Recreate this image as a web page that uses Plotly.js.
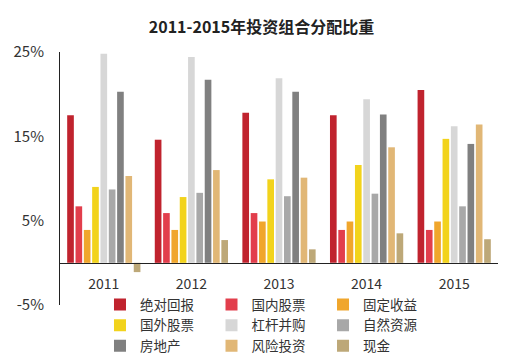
<!DOCTYPE html>
<html>
<head>
<meta charset="utf-8">
<script src="https://cdn.plot.ly/plotly-3.0.1.min.js"></script>
<style>html,body{margin:0;padding:0;background:#fff;}#chart{width:523px;height:355px;}</style>
</head>
<body>
<div id="chart"></div>
<script>
var years = ['2011', '2012', '2013', '2014', '2015'];
var seriesNames = ['绝对回报', '国内股票', '固定收益', '国外股票', '杠杆并购', '自然资源', '房地产', '风险投资', '现金'];
var absoluteReturn = [17.5, 14.6, 17.8, 17.5, 20.5];
var domesticEquity = [6.7, 5.9, 5.9, 3.9, 3.9];
var fixedIncome = [3.9, 3.9, 4.9, 4.9, 4.9];
var foreignEquity = [9.0, 7.8, 9.9, 11.6, 14.7];
var leveragedBuyout = [24.8, 24.4, 21.9, 19.4, 16.2];
var naturalResources = [8.7, 8.3, 7.9, 8.2, 6.7];
var realEstate = [20.3, 21.7, 20.3, 17.6, 14.1];
var ventureCapital = [10.3, 11.0, 10.1, 13.7, 16.4];
var cash = [-1.1, 2.7, 1.6, 3.5, 2.8];
var yTicks = [-5, 5, 15, 25];
var yTickLabels = ['-5%', '5%', '15%', '25%'];

var seriesValues = [absoluteReturn, domesticEquity, fixedIncome, foreignEquity, leveragedBuyout, naturalResources, realEstate, ventureCapital, cash];
var colors = ['#C0232E', '#E23E4C', '#F0A62C', '#F2D31C', '#D7D7D7', '#A8A8A8', '#808080', '#E1B776', '#BDA878'];
var legendIds = ['legend', 'legend2', 'legend3'];

var traces = seriesValues.map(function (vals, i) {
  return {
    type: 'bar',
    name: seriesNames[i],
    x: years,
    y: vals,
    marker: {color: colors[i]},
    legend: legendIds[i % 3],
    hoverinfo: 'name+y'
  };
});

var font = 'Noto Sans CJK SC, Noto Sans, sans-serif';
function legendAt(x) {
  return {
    x: x, xanchor: 'left', y: 0.062, yanchor: 'top',
    orientation: 'v', bgcolor: 'rgba(0,0,0,0)', tracegroupgap: 0,
    font: {family: font, size: 13.5, color: '#333'}
  };
}

var layout = {
  width: 523, height: 355,
  margin: {l: 60, r: 25, t: 52, b: 50, autoexpand: false},
  paper_bgcolor: '#fff', plot_bgcolor: '#fff',
  font: {family: font, color: '#333'},
  title: {
    text: '<b>2011-2015年投资组合分配比重</b>',
    font: {family: font, size: 16, color: '#222'},
    x: 0.5, xanchor: 'center', xref: 'container',
    y: 1 - 27 / 355, yanchor: 'middle', yref: 'container'
  },
  barmode: 'group',
  bargap: 0.145,
  bargroupgap: 0.2,
  showlegend: true,
  legend: legendAt(0.0913),
  legend2: legendAt(0.3459),
  legend3: legendAt(0.6005),
  xaxis: {
    type: 'category',
    anchor: 'free', position: 5 / 30,
    showline: true, linecolor: '#222', linewidth: 1,
    showgrid: false, zeroline: false, ticks: '',
    ticklabelstandoff: 8,
    tickfont: {family: font, size: 14, color: '#333'}
  },
  yaxis: {
    range: [-5, 25],
    tickmode: 'array', tickvals: yTicks, ticktext: yTickLabels,
    showline: true, linecolor: '#222', linewidth: 1,
    showgrid: false, zeroline: false, ticks: '',
    ticklabelstandoff: 12,
    tickfont: {family: font, size: 15, color: '#333'}
  }
};

Plotly.newPlot('chart', traces, layout, {displayModeBar: false, staticPlot: true});
</script>
</body>
</html>
